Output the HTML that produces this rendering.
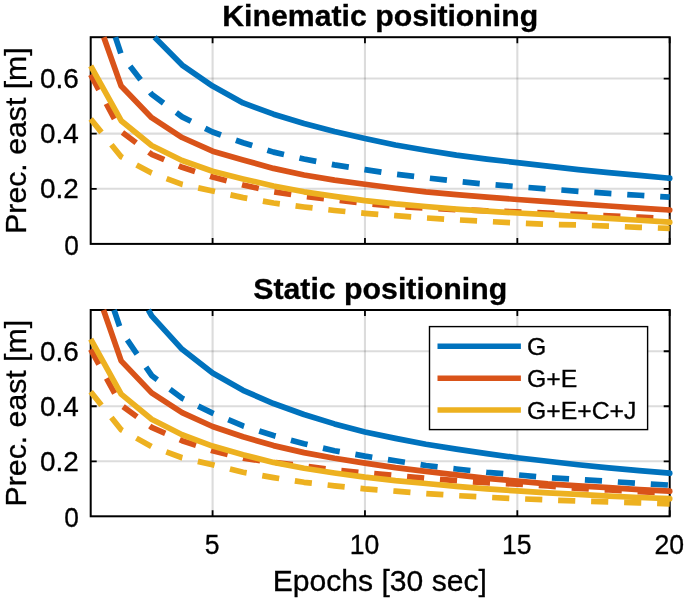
<!DOCTYPE html>
<html><head><meta charset="utf-8"><title>Positioning precision</title>
<style>
html,body{margin:0;padding:0;background:#fff;}
svg{display:block;}
text{font-family:"Liberation Sans",Arial,Helvetica,sans-serif;fill:#000;stroke:#000;stroke-width:0.3px;}
</style></head>
<body>
<svg width="685" height="602" viewBox="0 0 685 602">
<rect x="0" y="0" width="685" height="602" fill="#fff"/>
<line x1="212.59" y1="37.20" x2="212.59" y2="243.90" stroke="#262626" stroke-opacity="0.16" stroke-width="2.1"/>
<line x1="364.96" y1="37.20" x2="364.96" y2="243.90" stroke="#262626" stroke-opacity="0.16" stroke-width="2.1"/>
<line x1="517.33" y1="37.20" x2="517.33" y2="243.90" stroke="#262626" stroke-opacity="0.16" stroke-width="2.1"/>
<line x1="90.70" y1="188.78" x2="669.70" y2="188.78" stroke="#262626" stroke-opacity="0.16" stroke-width="2.1"/>
<line x1="90.70" y1="133.66" x2="669.70" y2="133.66" stroke="#262626" stroke-opacity="0.16" stroke-width="2.1"/>
<line x1="90.70" y1="78.54" x2="669.70" y2="78.54" stroke="#262626" stroke-opacity="0.16" stroke-width="2.1"/>
<path d="M212.59 243.90 v-6.00 M212.59 37.20 v6.00" stroke="#000" stroke-width="1.8"/>
<path d="M364.96 243.90 v-6.00 M364.96 37.20 v6.00" stroke="#000" stroke-width="1.8"/>
<path d="M517.33 243.90 v-6.00 M517.33 37.20 v6.00" stroke="#000" stroke-width="1.8"/>
<path d="M669.70 243.90 v-6.00 M669.70 37.20 v6.00" stroke="#000" stroke-width="1.8"/>
<path d="M90.70 188.78 h6.00 M669.70 188.78 h-6.00" stroke="#000" stroke-width="1.8"/>
<path d="M90.70 133.66 h6.00 M669.70 133.66 h-6.00" stroke="#000" stroke-width="1.8"/>
<path d="M90.70 78.54 h6.00 M669.70 78.54 h-6.00" stroke="#000" stroke-width="1.8"/>
<rect x="90.70" y="37.20" width="579.00" height="206.70" fill="none" stroke="#000" stroke-width="2"/>
<path d="M154.64 37.20 L182.12 65.04 L212.59 86.09 L243.07 102.88 L273.54 114.20 L304.02 123.55 L334.49 131.46 L364.96 138.51 L395.44 145.04 L425.91 150.20 L456.38 155.10 L486.86 159.07 L517.33 162.60 L547.81 166.07 L578.28 169.57 L608.75 172.60 L639.23 175.41 L669.70 178.22" fill="none" stroke="#0072BD" stroke-width="5.70" stroke-linejoin="round"/><circle cx="669.70" cy="178.22" r="2.85" fill="#0072BD"/>
<path d="M115.41 37.20 L121.17 54.56 L151.65 94.25 L182.12 116.85 L212.59 132.01 L243.07 142.75 L273.54 152.13 L304.02 159.07 L334.49 164.91 L364.96 169.57 L395.44 174.26 L425.91 177.76 L456.38 181.26 L486.86 184.29 L517.33 186.63 L547.81 188.97 L578.28 191.32 L608.75 193.41 L639.23 195.28 L669.70 197.13" fill="none" stroke="#0072BD" stroke-width="5.70" stroke-linejoin="round" stroke-dasharray="17.15 15.86"/>
<path d="M103.81 37.20 L121.17 86.09 L151.65 117.68 L182.12 137.52 L212.59 151.16 L243.07 159.98 L273.54 168.39 L304.02 175.00 L334.49 180.10 L364.96 184.29 L395.44 188.28 L425.91 191.81 L456.38 194.57 L486.86 197.13 L517.33 199.47 L547.81 201.60 L578.28 203.94 L608.75 206.03 L639.23 208.13 L669.70 210.00" fill="none" stroke="#D95319" stroke-width="5.70" stroke-linejoin="round"/><circle cx="669.70" cy="210.00" r="2.85" fill="#D95319"/>
<path d="M90.70 74.68 L121.17 131.46 L151.65 154.33 L182.12 167.28 L212.59 177.07 L243.07 184.98 L273.54 191.81 L304.02 196.44 L334.49 199.94 L364.96 203.47 L395.44 206.25 L425.91 208.07 L456.38 209.59 L486.86 210.83 L517.33 211.93 L547.81 213.03 L578.28 214.41 L608.75 215.79 L639.23 217.17 L669.70 218.66" fill="none" stroke="#D95319" stroke-width="5.70" stroke-linejoin="round" stroke-dasharray="17.15 15.86"/>
<path d="M90.70 65.86 L121.17 120.71 L151.65 145.51 L182.12 160.53 L212.59 171.22 L243.07 178.91 L273.54 185.94 L304.02 191.81 L334.49 196.44 L364.96 200.63 L395.44 203.94 L425.91 206.50 L456.38 209.06 L486.86 211.16 L517.33 213.03 L547.81 214.69 L578.28 216.53 L608.75 218.41 L639.23 220.28 L669.70 222.13" fill="none" stroke="#EDB120" stroke-width="5.70" stroke-linejoin="round"/><circle cx="669.70" cy="222.13" r="2.85" fill="#EDB120"/>
<path d="M90.70 119.05 L121.17 156.81 L151.65 173.07 L182.12 184.37 L212.59 191.07 L243.07 197.60 L273.54 203.00 L304.02 206.97 L334.49 210.47 L364.96 213.31 L395.44 215.62 L425.91 217.94 L456.38 219.81 L486.86 221.44 L517.33 223.09 L547.81 224.28 L578.28 224.97 L608.75 226.12 L639.23 227.31 L669.70 228.47" fill="none" stroke="#EDB120" stroke-width="5.70" stroke-linejoin="round" stroke-dasharray="17.15 15.86"/>
<line x1="212.59" y1="310.00" x2="212.59" y2="516.30" stroke="#262626" stroke-opacity="0.16" stroke-width="2.1"/>
<line x1="364.96" y1="310.00" x2="364.96" y2="516.30" stroke="#262626" stroke-opacity="0.16" stroke-width="2.1"/>
<line x1="517.33" y1="310.00" x2="517.33" y2="516.30" stroke="#262626" stroke-opacity="0.16" stroke-width="2.1"/>
<line x1="90.70" y1="461.29" x2="669.70" y2="461.29" stroke="#262626" stroke-opacity="0.16" stroke-width="2.1"/>
<line x1="90.70" y1="406.27" x2="669.70" y2="406.27" stroke="#262626" stroke-opacity="0.16" stroke-width="2.1"/>
<line x1="90.70" y1="351.26" x2="669.70" y2="351.26" stroke="#262626" stroke-opacity="0.16" stroke-width="2.1"/>
<path d="M212.59 516.30 v-6.00 M212.59 310.00 v6.00" stroke="#000" stroke-width="1.8"/>
<path d="M364.96 516.30 v-6.00 M364.96 310.00 v6.00" stroke="#000" stroke-width="1.8"/>
<path d="M517.33 516.30 v-6.00 M517.33 310.00 v6.00" stroke="#000" stroke-width="1.8"/>
<path d="M669.70 516.30 v-6.00 M669.70 310.00 v6.00" stroke="#000" stroke-width="1.8"/>
<path d="M90.70 461.29 h6.00 M669.70 461.29 h-6.00" stroke="#000" stroke-width="1.8"/>
<path d="M90.70 406.27 h6.00 M669.70 406.27 h-6.00" stroke="#000" stroke-width="1.8"/>
<path d="M90.70 351.26 h6.00 M669.70 351.26 h-6.00" stroke="#000" stroke-width="1.8"/>
<rect x="90.70" y="310.00" width="579.00" height="206.30" fill="none" stroke="#000" stroke-width="2"/>
<path d="M148.42 310.00 L151.65 315.86 L182.12 349.33 L212.59 373.10 L243.07 390.32 L273.54 403.55 L304.02 414.53 L334.49 423.88 L364.96 432.07 L395.44 438.37 L425.91 444.23 L456.38 449.13 L486.86 453.58 L517.33 457.77 L547.81 461.29 L578.28 464.78 L608.75 467.81 L639.23 470.64 L669.70 473.20" fill="none" stroke="#0072BD" stroke-width="5.70" stroke-linejoin="round"/><circle cx="669.70" cy="473.20" r="2.85" fill="#0072BD"/>
<path d="M114.04 310.00 L121.17 331.02 L151.65 375.47 L182.12 398.30 L212.59 413.15 L243.07 425.94 L273.54 435.57 L304.02 443.74 L334.49 450.75 L364.96 456.12 L395.44 460.79 L425.91 465.47 L456.38 468.99 L486.86 472.29 L517.33 474.82 L547.81 477.63 L578.28 479.50 L608.75 481.37 L639.23 483.48 L669.70 485.11" fill="none" stroke="#0072BD" stroke-width="5.70" stroke-linejoin="round" stroke-dasharray="17.15 15.86"/>
<path d="M103.50 310.00 L121.17 360.89 L151.65 392.88 L182.12 412.60 L212.59 426.49 L243.07 436.72 L273.54 445.61 L304.02 452.62 L334.49 458.26 L364.96 463.13 L395.44 467.61 L425.91 471.30 L456.38 474.82 L486.86 478.34 L517.33 481.12 L547.81 483.92 L578.28 485.80 L608.75 487.69 L639.23 489.54 L669.70 491.19" fill="none" stroke="#D95319" stroke-width="5.70" stroke-linejoin="round"/><circle cx="669.70" cy="491.19" r="2.85" fill="#D95319"/>
<path d="M90.70 349.33 L121.17 405.17 L151.65 427.40 L182.12 440.71 L212.59 450.75 L243.07 458.26 L273.54 462.39 L304.02 465.96 L334.49 469.90 L364.96 472.95 L395.44 475.45 L425.91 478.34 L456.38 480.68 L486.86 482.77 L517.33 484.17 L547.81 485.91 L578.28 488.38 L608.75 490.00 L639.23 491.65 L669.70 493.28" fill="none" stroke="#D95319" stroke-width="5.70" stroke-linejoin="round" stroke-dasharray="17.15 15.86"/>
<path d="M90.70 339.24 L121.17 394.17 L151.65 419.20 L182.12 434.72 L212.59 446.10 L243.07 454.69 L273.54 462.39 L304.02 468.27 L334.49 472.95 L364.96 477.16 L395.44 480.68 L425.91 483.48 L456.38 486.29 L486.86 488.85 L517.33 490.94 L547.81 492.84 L578.28 494.43 L608.75 496.08 L639.23 497.49 L669.70 498.67" fill="none" stroke="#EDB120" stroke-width="5.70" stroke-linejoin="round"/><circle cx="669.70" cy="498.67" r="2.85" fill="#EDB120"/>
<path d="M90.70 391.83 L121.17 429.71 L151.65 446.54 L182.12 457.77 L212.59 464.78 L243.07 472.29 L273.54 477.63 L304.02 482.30 L334.49 485.80 L364.96 488.85 L395.44 491.19 L425.91 493.52 L456.38 495.61 L486.86 497.27 L517.33 498.67 L547.81 499.93 L578.28 501.01 L608.75 501.91 L639.23 502.88 L669.70 503.78" fill="none" stroke="#EDB120" stroke-width="5.70" stroke-linejoin="round" stroke-dasharray="17.15 15.86"/>
<text x="380.20" y="25.60" font-size="29.50" text-anchor="middle" font-weight="bold" stroke="none" textLength="316.00" lengthAdjust="spacingAndGlyphs">Kinematic positioning</text>
<text x="380.20" y="298.70" font-size="29.50" text-anchor="middle" font-weight="bold" stroke="none" textLength="254.00" lengthAdjust="spacingAndGlyphs">Static positioning</text>
<text x="379.80" y="591.40" font-size="29.80" text-anchor="middle" textLength="214.00" lengthAdjust="spacingAndGlyphs">Epochs [30 sec]</text>
<text x="25.60" y="140.55" font-size="30.00" text-anchor="middle" textLength="186.50" lengthAdjust="spacingAndGlyphs" transform="rotate(-90 25.60 140.55)">Prec. east [m]</text>
<text x="25.60" y="413.15" font-size="30.00" text-anchor="middle" textLength="186.50" lengthAdjust="spacingAndGlyphs" transform="rotate(-90 25.60 413.15)">Prec. east [m]</text>
<text x="78.80" y="254.70" font-size="27.00" text-anchor="end" textLength="14.60" lengthAdjust="spacingAndGlyphs">0</text>
<text x="78.80" y="198.38" font-size="27.00" text-anchor="end" textLength="38.80" lengthAdjust="spacingAndGlyphs">0.2</text>
<text x="78.80" y="143.26" font-size="27.00" text-anchor="end" textLength="38.80" lengthAdjust="spacingAndGlyphs">0.4</text>
<text x="78.80" y="88.14" font-size="27.00" text-anchor="end" textLength="38.80" lengthAdjust="spacingAndGlyphs">0.6</text>
<text x="78.80" y="527.10" font-size="27.00" text-anchor="end" textLength="14.60" lengthAdjust="spacingAndGlyphs">0</text>
<text x="78.80" y="470.89" font-size="27.00" text-anchor="end" textLength="38.80" lengthAdjust="spacingAndGlyphs">0.2</text>
<text x="78.80" y="415.87" font-size="27.00" text-anchor="end" textLength="38.80" lengthAdjust="spacingAndGlyphs">0.4</text>
<text x="78.80" y="360.86" font-size="27.00" text-anchor="end" textLength="38.80" lengthAdjust="spacingAndGlyphs">0.6</text>
<text x="212.09" y="553.60" font-size="27.00" text-anchor="middle" textLength="14.80" lengthAdjust="spacingAndGlyphs">5</text>
<text x="364.46" y="553.60" font-size="27.00" text-anchor="middle" textLength="29.60" lengthAdjust="spacingAndGlyphs">10</text>
<text x="516.83" y="553.60" font-size="27.00" text-anchor="middle" textLength="29.60" lengthAdjust="spacingAndGlyphs">15</text>
<text x="669.20" y="553.60" font-size="27.00" text-anchor="middle" textLength="29.60" lengthAdjust="spacingAndGlyphs">20</text>
<rect x="429.50" y="326.60" width="218.10" height="103.00" fill="#fff" stroke="#000" stroke-width="1.4"/>
<line x1="437.5" y1="346.20" x2="520.9" y2="346.20" stroke="#0072BD" stroke-width="5.5"/>
<text x="526.90" y="354.70" font-size="23.20" text-anchor="start" textLength="19.30" lengthAdjust="spacingAndGlyphs">G</text>
<line x1="437.5" y1="378.20" x2="520.9" y2="378.20" stroke="#D95319" stroke-width="5.5"/>
<text x="526.90" y="386.70" font-size="23.20" text-anchor="start" textLength="50.30" lengthAdjust="spacingAndGlyphs">G+E</text>
<line x1="437.5" y1="410.00" x2="520.9" y2="410.00" stroke="#EDB120" stroke-width="5.5"/>
<text x="526.90" y="418.50" font-size="23.20" text-anchor="start" textLength="109.50" lengthAdjust="spacingAndGlyphs">G+E+C+J</text>
</svg>
</body></html>
